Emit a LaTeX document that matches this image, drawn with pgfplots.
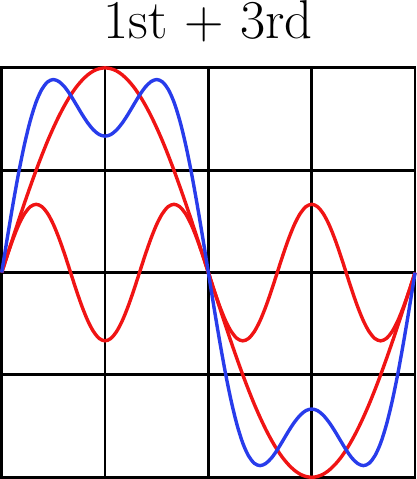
\documentclass[border=0pt]{standalone}
\usepackage{pgfplots}
\pgfplotsset{compat=1.18}
\definecolor{myred}{RGB}{240,20,20}
\definecolor{myblue}{RGB}{40,60,235}
\begin{document}
\begin{tikzpicture}
\begin{axis}[
  scale only axis, width=170pt, height=168.4pt,
  xmin=0, xmax=360, ymin=-2, ymax=2,
  xtick={0,90,180,270,360}, ytick={-2,-1,0,1,2},
  xticklabels={}, yticklabels={},
  tick label style={overlay},
  major tick length=0pt,
  grid=major,
  major grid style={black, line width=1.2pt},
  axis line style={black, line width=1.2pt},
  title={\fontsize{22.5}{26}\selectfont 1st + 3rd},
  title style={at={(0.5,1)}, anchor=base, inner xsep=0pt, inner ysep=0.3pt, yshift=6pt},
  clip=false,
]
\addplot[myred, line width=1.4pt, smooth] coordinates {
(0,0) (5,0.173) (10,0.333) (15,0.471) (20,0.577) (25,0.644) (30,0.667) (35,0.644) (40,0.577) (45,0.471) (50,0.333) (55,0.173)
(60,0) (65,-0.173) (70,-0.333) (75,-0.471) (80,-0.577) (85,-0.644) (90,-0.667) (95,-0.644) (100,-0.577) (105,-0.471) (110,-0.333) (115,-0.173)
(120,0) (125,0.173) (130,0.333) (135,0.471) (140,0.577) (145,0.644) (150,0.667) (155,0.644) (160,0.577) (165,0.471) (170,0.333) (175,0.173)
(180,0) (185,-0.173) (190,-0.333) (195,-0.471) (200,-0.577) (205,-0.644) (210,-0.667) (215,-0.644) (220,-0.577) (225,-0.471) (230,-0.333) (235,-0.173)
(240,0) (245,0.173) (250,0.333) (255,0.471) (260,0.577) (265,0.644) (270,0.667) (275,0.644) (280,0.577) (285,0.471) (290,0.333) (295,0.173)
(300,0) (305,-0.173) (310,-0.333) (315,-0.471) (320,-0.577) (325,-0.644) (330,-0.667) (335,-0.644) (340,-0.577) (345,-0.471) (350,-0.333) (355,-0.173)
(360,0)
};
\addplot[myred, line width=1.4pt, smooth] coordinates {
(0,0) (5,0.174) (10,0.347) (15,0.518) (20,0.684) (25,0.845) (30,1.0) (35,1.147) (40,1.286) (45,1.414) (50,1.532) (55,1.638)
(60,1.732) (65,1.813) (70,1.879) (75,1.932) (80,1.970) (85,1.992) (90,2)
(95,1.992) (100,1.970) (105,1.932) (110,1.879) (115,1.813) (120,1.732) (125,1.638) (130,1.532) (135,1.414) (140,1.286) (145,1.147)
(150,1.0) (155,0.845) (160,0.684) (165,0.518) (170,0.347) (175,0.174) (180,0)
(185,-0.174) (190,-0.347) (195,-0.518) (200,-0.684) (205,-0.845) (210,-1.0) (215,-1.147) (220,-1.286) (225,-1.414) (230,-1.532) (235,-1.638)
(240,-1.732) (245,-1.813) (250,-1.879) (255,-1.932) (260,-1.970) (265,-1.992) (270,-2)
(275,-1.992) (280,-1.970) (285,-1.932) (290,-1.879) (295,-1.813) (300,-1.732) (305,-1.638) (310,-1.532) (315,-1.414) (320,-1.286) (325,-1.147)
(330,-1.0) (335,-0.845) (340,-0.684) (345,-0.518) (350,-0.347) (355,-0.174) (360,0)
};
\addplot[myblue, line width=1.4pt, smooth] coordinates {
(0,0) (5,0.347) (10,0.680) (15,0.989) (20,1.261) (25,1.489) (30,1.667) (35,1.791) (40,1.863) (45,1.886) (50,1.865) (55,1.811)
(60,1.732) (65,1.640) (70,1.546) (75,1.461) (80,1.393) (85,1.348) (90,1.333)
(95,1.348) (100,1.393) (105,1.461) (110,1.546) (115,1.640) (120,1.732) (125,1.811) (130,1.865) (135,1.886) (140,1.863) (145,1.791)
(150,1.667) (155,1.489) (160,1.261) (165,0.989) (170,0.680) (175,0.347) (180,0)
(185,-0.347) (190,-0.680) (195,-0.989) (200,-1.261) (205,-1.489) (210,-1.667) (215,-1.791) (220,-1.863) (225,-1.886) (230,-1.865) (235,-1.811)
(240,-1.732) (245,-1.640) (250,-1.546) (255,-1.461) (260,-1.393) (265,-1.348) (270,-1.333)
(275,-1.348) (280,-1.393) (285,-1.461) (290,-1.546) (295,-1.640) (300,-1.732) (305,-1.811) (310,-1.865) (315,-1.886) (320,-1.863) (325,-1.791)
(330,-1.667) (335,-1.489) (340,-1.261) (345,-0.989) (350,-0.680) (355,-0.347) (360,0)
};
\end{axis}
\end{tikzpicture}
\end{document}
